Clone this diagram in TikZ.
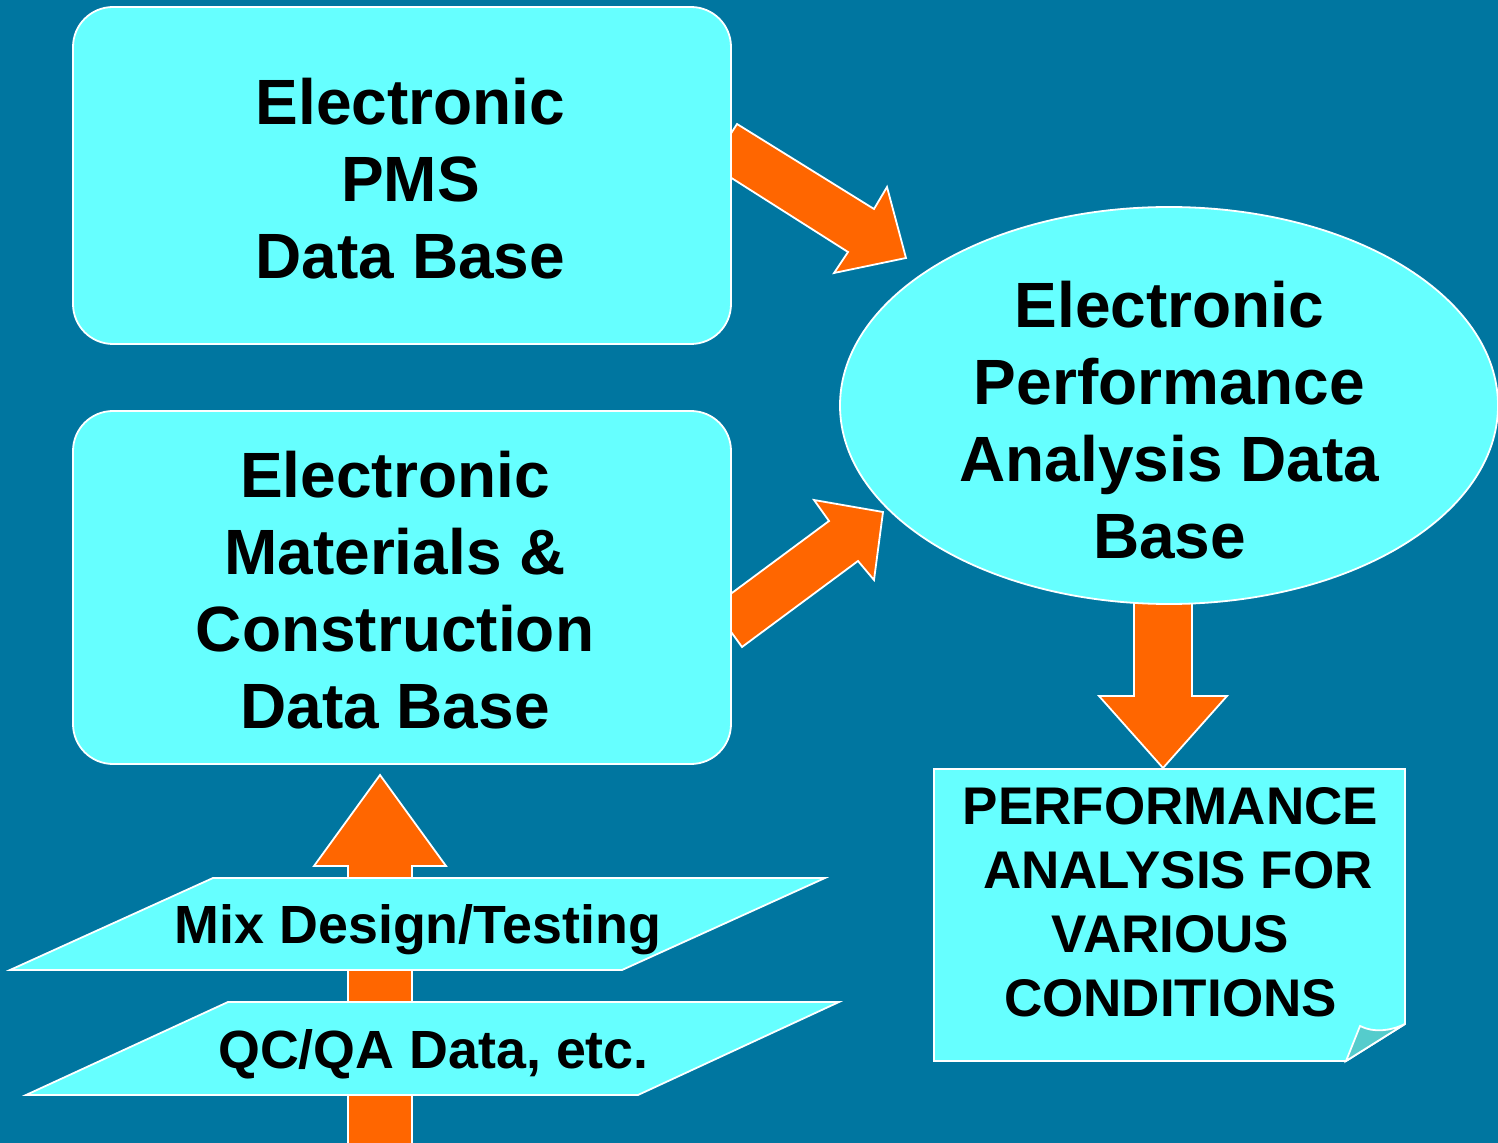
\documentclass[tikz,border=0pt]{standalone}
\usepackage{fontspec}
\setmainfont{Liberation Sans}
\usetikzlibrary{shapes.geometric}
\definecolor{bgblue}{RGB}{0,118,160}
\definecolor{boxcyan}{RGB}{102,255,255}
\definecolor{arroworange}{RGB}{255,102,0}
\definecolor{flapteal}{RGB}{85,204,204}
\begin{document}
\begin{tikzpicture}[x=0.5pt,y=-0.5pt,
  outline/.style={draw=white, line width=0.9pt, line join=miter},
  blockarrow/.style={outline, fill=arroworange},
  dbbox/.style={outline, fill=boxcyan, rectangle, rounded corners=20pt,
    inner sep=0pt, minimum width=329pt},
  sheet/.style={outline, fill=boxcyan},
  bigtxt/.style={font=\bfseries\fontsize{32}{38.5}\selectfont,
    align=center, inner sep=0pt},
  smalltxt/.style={font=\bfseries\fontsize{26.5}{32}\selectfont,
    align=center, inner sep=0pt},
  sheettxt/.style={font=\bfseries\fontsize{26.9}{32}\selectfont,
    inner sep=0pt, anchor=base}]

% page and background
\useasboundingbox (0,0) rectangle (1498,1143);
\fill[bgblue] (0,0) rectangle (1498,1143);

% block arrows (drawn first, the boxes cover their tails)
\draw[blockarrow] (711,165) -- (737,124) -- (874,209) -- (887,187)
  -- (906,258) -- (834,273) -- (848,252) -- cycle;
\draw[blockarrow] (742,647) -- (858,561) -- (874,580) -- (883,512)
  -- (814,500) -- (829,521) -- (713,607) -- cycle;
\draw[blockarrow] (1134,580) -- (1134,696) -- (1099,696) -- (1163,768)
  -- (1227,696) -- (1192,696) -- (1192,580) -- cycle;
\draw[blockarrow] (348,1150) -- (348,866) -- (314,866) -- (380,775)
  -- (446,866) -- (412,866) -- (412,1150) -- cycle;

% data base boxes
\node[dbbox, minimum height=168.5pt] (pms) at (402,175.5) {};
\node[bigtxt] (pmstext) at (410.5,179) {Electronic\\PMS\\Data Base};

\node[dbbox, minimum height=176.5pt] (mat) at (402,587.5) {};
\node[bigtxt] (mattext) at (395,590)
  {Electronic\\Materials \&\\Construction\\Data Base};

% performance analysis data base
\node[outline, fill=boxcyan, ellipse, inner sep=0pt,
  minimum width=329pt, minimum height=198.5pt] (perf) at (1169,405.5) {};
\node[bigtxt] (perftext) at (1169.5,420)
  {Electronic\\Performance\\Analysis Data\\Base};

% output sheet with a curled corner
\draw[sheet] (934,769) -- (1405,769) -- (1405,1024) -- (1346,1061)
  -- (934,1061) -- cycle;
\draw[outline, fill=flapteal] (1346,1061) -- (1360,1026)
  .. controls (1374,1033) and (1390,1031) .. (1405,1024) -- cycle;
\node[smalltxt] (outtext) at (1170.5,902.5)
  {PERFORMANCE\\\hspace*{0.28em}ANALYSIS FOR\\VARIOUS\\CONDITIONS};

% input data sheets
\draw[sheet] (213,878) -- (825,878) -- (622,970) -- (10,970) -- cycle;
\node[sheettxt] (mixtext) at (418,943) {Mix Design/Testing};
\draw[sheet] (228,1002) -- (839,1002) -- (638,1095) -- (26,1095) -- cycle;
\node[sheettxt] (qctext) at (433.5,1068) {QC/QA Data, etc.};
\end{tikzpicture}
\end{document}
